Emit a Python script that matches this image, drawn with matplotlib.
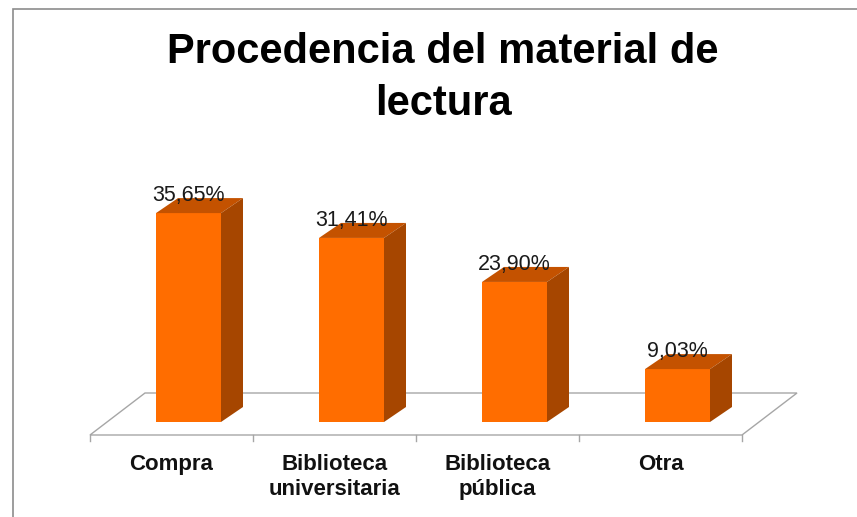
import matplotlib
matplotlib.use("Agg")
import matplotlib.pyplot as plt
from matplotlib.patches import Polygon, Rectangle

categories = ["Compra", "Biblioteca\nuniversitaria", "Biblioteca\npública", "Otra"]
values = [35.65, 31.41, 23.90, 9.03]
value_labels = ["35,65%", "31,41%", "23,90%", "9,03%"]
title_lines = ["Procedencia del material de", "lectura"]

W, H = 857, 517
fig = plt.figure(figsize=(W / 100, H / 100), dpi=100)
ax = fig.add_axes([0, 0, 1, 1])

# pixel mapping: x_pix = 171.5 + 163*x ; y_pix = 422 - 5.86*y
sx, ox = 163.0, 171.5
sy, oy = 5.86, 422.0
ax.set_xlim((0 - ox) / sx, (W - ox) / sx)
ax.set_ylim((oy - H) / sy, oy / sy)
ax.axis("off")

front_c = "#FF6D00"
top_c = "#C45200"
side_c = "#A64600"
grid_c = "#A6A6A6"

n = len(categories)
floor_front = -13 / sy
floor_back = 29 / sy
floor_dx = 55 / sx
x0, x1 = -0.5, n - 0.5
floor = Polygon([(x0, floor_front), (x1, floor_front),
                 (x1 + floor_dx, floor_back), (x0 + floor_dx, floor_back)],
                closed=True, facecolor="white", edgecolor=grid_c, lw=1.0, zorder=1)
ax.add_patch(floor)
for i in range(n + 1):
    xt = x0 + i
    ax.plot([xt, xt], [floor_front, floor_front - 6 / sy], color=grid_c, lw=1.0, zorder=1)

bw = 65 / sx
shift = 17 / sx
ddx = 22 / sx
ddy = 15 / sy
xs = [i + shift for i in range(n)]
ax.bar(xs, values, width=bw, color=front_c, zorder=3, linewidth=0)
for xc, v, lab in zip(xs, values, value_labels):
    l, r = xc - bw / 2, xc + bw / 2
    ax.add_patch(Polygon([(l, v), (r, v), (r + ddx, v + ddy), (l + ddx, v + ddy)],
                         closed=True, facecolor=top_c, edgecolor="none", zorder=3))
    ax.add_patch(Polygon([(r, 0), (r + ddx, ddy), (r + ddx, v + ddy), (r, v)],
                         closed=True, facecolor=side_c, edgecolor="none", zorder=3))
    ax.text(xc, v + 12 / sy, lab, ha="center", va="baseline", fontsize=15.5,
            family="Liberation Sans", color="#1a1a1a", zorder=4)

for i, c in enumerate(categories):
    ax.text(i, floor_front - 19 / sy, c, ha="center", va="top", fontsize=16,
            fontweight="bold", family="Liberation Sans", color="#111111",
            linespacing=1.25)

fig.text(443 / W, 1 - 63 / H, title_lines[0], ha="center", va="baseline", fontsize=30,
         fontweight="bold", family="Liberation Sans", color="black")
fig.text(443 / W, 1 - 115 / H, title_lines[1], ha="center", va="baseline", fontsize=30,
         fontweight="bold", family="Liberation Sans", color="black")

fig.patches.append(Rectangle((13 / W, -0.1), 1.2, 1 - 9 / H + 0.1,
                             transform=fig.transFigure, fill=False,
                             edgecolor="#8C8C8C", lw=1.2))

fig.savefig("out.png", dpi=100)
